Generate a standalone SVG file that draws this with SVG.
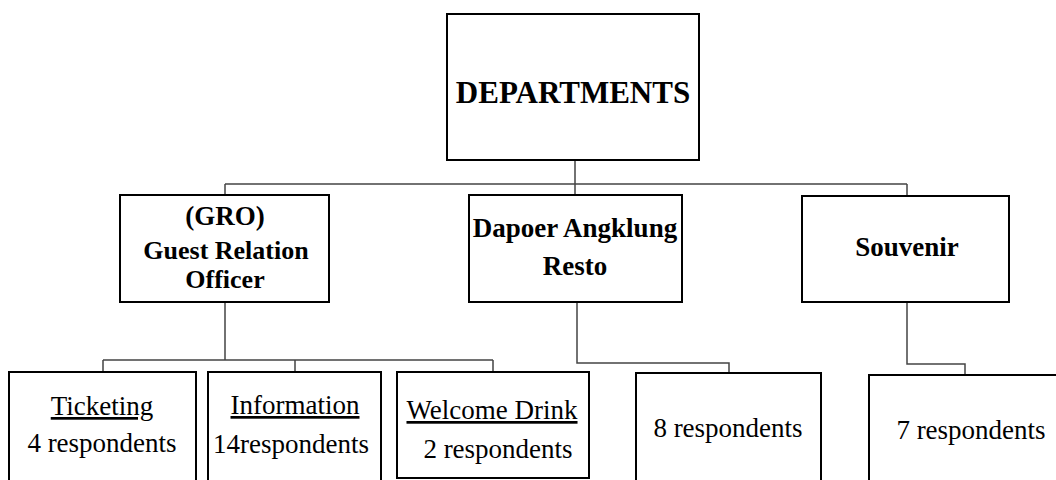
<svg xmlns="http://www.w3.org/2000/svg" width="1056" height="480" viewBox="0 0 1056 480">
<style>
.box{fill:#fff;stroke:#000;stroke-width:2}
.b{font-family:"Liberation Serif","Times New Roman",serif;font-weight:bold;font-size:27px;fill:#000;text-anchor:middle}
.r{font-family:"Liberation Serif","Times New Roman",serif;font-size:27px;fill:#000;text-anchor:middle}
.u{text-decoration:underline}
.c{fill:none;stroke:#444;stroke-width:1.5}
</style>
<rect width="1056" height="480" fill="#fff"/>
<g id="connectors">
<path class="c" d="M575,160V195M225,184H907M225,184V195M907,184V196"/>
<path class="c" d="M225,302V360M103,360H493M103,360V372M295,360V372M493,360V372"/>
<path class="c" d="M577,302V363H729V373"/>
<path class="c" d="M907,302V364H965V375"/>
</g>
<g id="departments">
<rect class="box" x="447" y="14" width="252" height="146"/>
<text class="b" x="573" y="103" style="font-size:31px">DEPARTMENTS</text>
</g>
<g id="gro">
<rect class="box" x="120" y="195" width="209" height="107"/>
<text class="b" x="225" y="225">(GRO)</text>
<text class="b" x="226" y="259" style="font-size:26px">Guest Relation</text>
<text class="b" x="225" y="288" style="font-size:26px">Officer</text>
</g>
<g id="dapoer">
<rect class="box" x="469" y="195" width="213" height="107"/>
<text class="b" x="575" y="237">Dapoer Angklung</text>
<text class="b" x="575" y="275">Resto</text>
</g>
<g id="souvenir">
<rect class="box" x="802" y="196" width="207" height="106"/>
<text class="b" x="907" y="256">Souvenir</text>
</g>
<g id="ticketing">
<rect class="box" x="9" y="372" width="187" height="120"/>
<text class="r u" x="102" y="415">Ticketing</text>
<text class="r" x="102" y="452">4 respondents</text>
</g>
<g id="information">
<rect class="box" x="208" y="372" width="173" height="120"/>
<text class="r u" x="295" y="414">Information</text>
<text class="r" x="291" y="453">14respondents</text>
</g>
<g id="welcome">
<rect class="box" x="397" y="372" width="192" height="106"/>
<text class="r u" x="492" y="419">Welcome Drink</text>
<text class="r" x="498" y="458">2 respondents</text>
</g>
<g id="resto-resp">
<rect class="box" x="636" y="373" width="185" height="120"/>
<text class="r" x="728" y="437">8 respondents</text>
</g>
<g id="souvenir-resp">
<rect class="box" x="869" y="375" width="200" height="120"/>
<text class="r" x="971" y="439">7 respondents</text>
</g>
</svg>
